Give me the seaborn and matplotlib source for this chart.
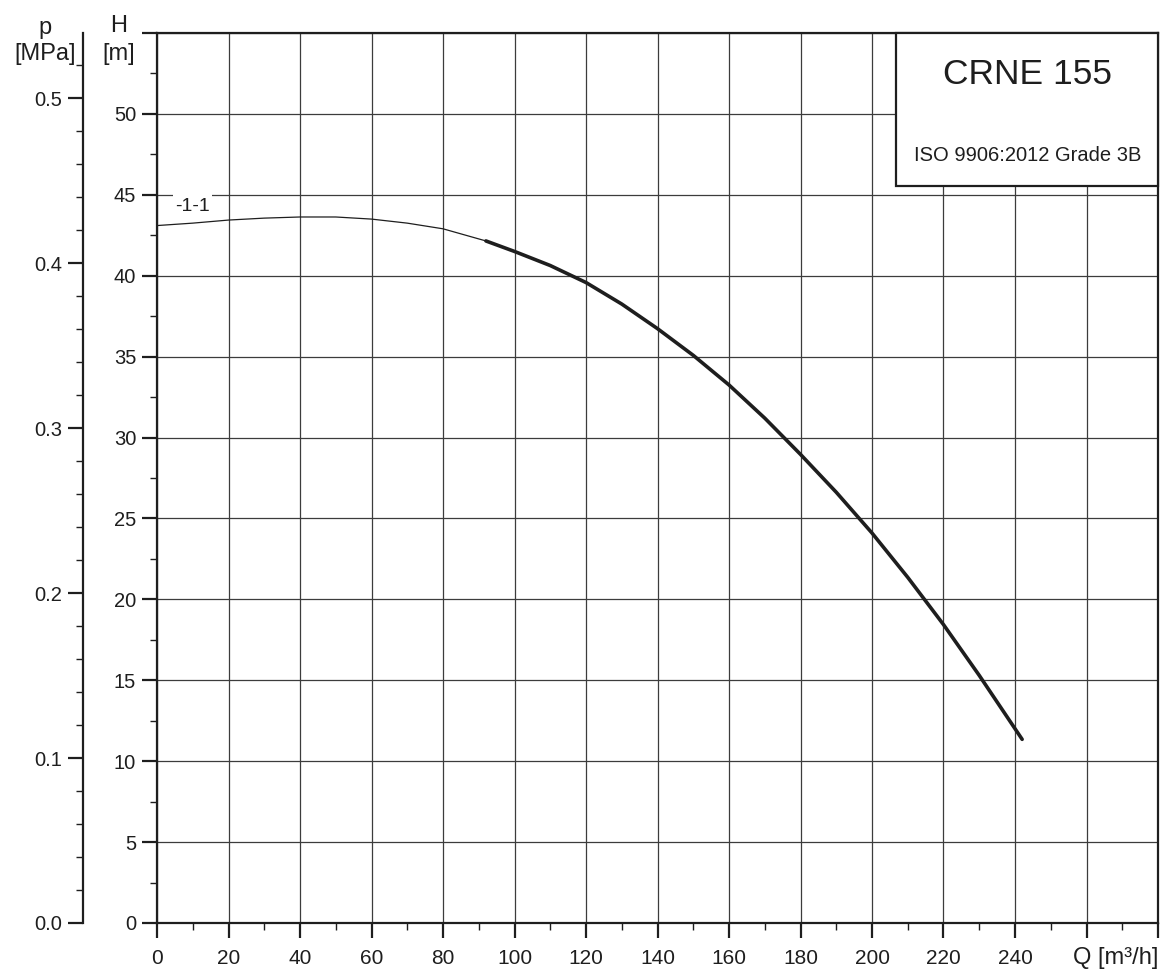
import matplotlib
matplotlib.use("Agg")
import matplotlib.pyplot as plt
from matplotlib.patches import Rectangle
from matplotlib.ticker import MultipleLocator, FormatStrFormatter
import seaborn as sns

# Curva (Q en m3/h, H en m)
Q_THIN = [0, 10, 20, 30, 40, 50, 60, 70, 80, 92]
H_THIN = [43.1, 43.25, 43.44, 43.56, 43.63, 43.63, 43.5, 43.25, 42.9, 42.15]
Q_THICK = [92, 100, 110, 120, 130, 140, 150, 160, 170, 180, 190, 200, 210, 220, 230, 242]
H_THICK = [42.15, 41.5, 40.63, 39.58, 38.25, 36.73, 35.08, 33.25, 31.2, 28.96, 26.62, 24.1,
           21.36, 18.44, 15.3, 11.35]

X_TICKS = list(range(0, 281, 20))
X_TICK_LABELS = [str(v) for v in range(0, 241, 20)] + ["", ""]
Y_TICKS = list(range(0, 56, 5))
Y_TICK_LABELS = [str(v) for v in range(0, 51, 5)] + [""]
CURVE_LABEL = "-1-1"
TITLE = "CRNE 155"
SUBTITLE = "ISO 9906:2012 Grade 3B"
MPA_PER_M = 0.00981

INK = "#1e1e1e"

sns.set_style("ticks")
plt.rcParams['font.family'] = ['Liberation Sans', 'DejaVu Sans']

fig = plt.figure(figsize=(11.6, 9.74), dpi=100)
ax = fig.add_axes([157 / 1160, 51 / 974, 1001 / 1160, 890 / 974])

# rejilla
ax.set_xlim(0, 280)
ax.set_ylim(0, 55)
ax.set_xticks(X_TICKS, labels=X_TICK_LABELS)
ax.set_yticks(Y_TICKS, labels=Y_TICK_LABELS)
ax.xaxis.set_minor_locator(MultipleLocator(10))
ax.yaxis.set_minor_locator(MultipleLocator(2.5))
ax.grid(True, which='major', color='#3c3c3c', lw=0.9)
ax.set_axisbelow(True)

for s in ax.spines.values():
    s.set_color(INK)
    s.set_linewidth(1.6)

ax.tick_params(axis='both', which='major', length=11, width=1.6, color=INK, labelcolor=INK)
ax.tick_params(axis='both', which='minor', length=5, width=1.0, color=INK)
ax.tick_params(axis='x', which='major', labelsize=15, pad=8)
ax.tick_params(axis='y', which='major', labelsize=14.5, pad=4)

# curva
sns.lineplot(x=Q_THIN, y=H_THIN, ax=ax, color=INK, lw=0.9, zorder=3)
sns.lineplot(x=Q_THICK, y=H_THICK, ax=ax, color=INK, lw=2.6, zorder=3)

# etiqueta de la curva con fondo blanco que tapa la línea de 45
ax.add_patch(Rectangle((4.5, 43.6), 10.9, 1.5, facecolor='white', edgecolor='none', zorder=2))
ax.text(9.8, 44.25, CURVE_LABEL, ha='center', va='center', fontsize=14, color=INK, zorder=4)

# cuadro del título
ax.add_patch(Rectangle((206.7, 45.55), 280 - 206.7, 55 - 45.55, facecolor='white',
                       edgecolor=INK, lw=1.6, zorder=5, clip_on=False))
ax.text(243.5, 52.45, TITLE, ha='center', va='center', fontsize=25.5, color=INK, zorder=6)
ax.text(243.5, 47.4, SUBTITLE, ha='center', va='center', fontsize=14.5, color=INK, zorder=6)

# eje de presión
ax2 = ax.twinx()
ax2.set_ylim(0, 55 * MPA_PER_M)
ax2.yaxis.set_ticks_position('left')
ax2.spines['left'].set_position(('outward', 53))
for side in ['right', 'top', 'bottom']:
    ax2.spines[side].set_visible(False)
ax2.spines['left'].set_color(INK)
ax2.spines['left'].set_linewidth(1.6)
ax2.yaxis.set_major_locator(MultipleLocator(0.1))
ax2.yaxis.set_minor_locator(MultipleLocator(0.02))
ax2.yaxis.set_major_formatter(FormatStrFormatter('%.1f'))
ax2.tick_params(axis='y', which='major', length=11, width=1.6, color=INK,
                labelcolor=INK, labelsize=14.5, pad=4)
ax2.tick_params(axis='y', which='minor', length=5, width=1.0, color=INK)
ax2.grid(False)

# etiquetas de ejes
fig.text(45 / 1160, 1 - 28 / 974, "p", ha='center', va='center', fontsize=17, color=INK)
fig.text(45 / 1160, 1 - 54 / 974, "[MPa]", ha='center', va='center', fontsize=17, color=INK)
fig.text(119 / 1160, 1 - 26 / 974, "H", ha='center', va='center', fontsize=17, color=INK)
fig.text(119 / 1160, 1 - 54 / 974, "[m]", ha='center', va='center', fontsize=17, color=INK)
fig.text(1158 / 1160, 1 - 958 / 974, "Q [m³/h]", ha='right', va='center', fontsize=17, color=INK)

fig.savefig("out.png", dpi=100)
